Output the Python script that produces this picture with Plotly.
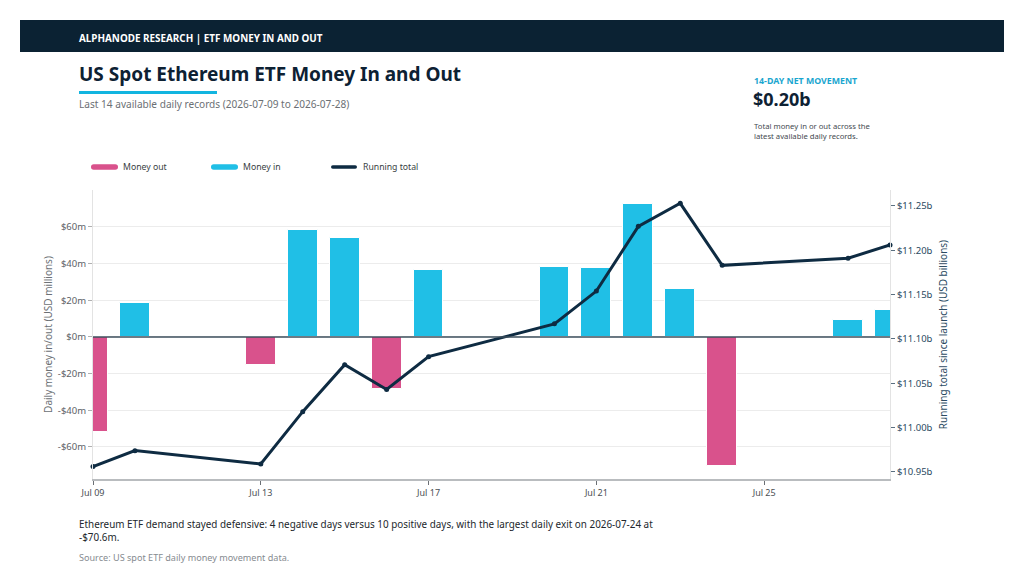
import plotly.graph_objects as go

# ---- data ----
dates = ["2026-07-09", "2026-07-10", "2026-07-13", "2026-07-14", "2026-07-15",
         "2026-07-16", "2026-07-17", "2026-07-20", "2026-07-21", "2026-07-22",
         "2026-07-23", "2026-07-24", "2026-07-27", "2026-07-28"]
daily_flow_musd = [-52.0, 18.4, -15.3, 58.3, 53.8, -28.3, 36.5, 38.0, 37.4,
                   72.5, 26.2, -70.6, 9.1, 14.5]
running_total_busd = [10.956, 10.974, 10.959, 11.018, 11.071, 11.043, 11.080,
                      11.117, 11.154, 11.227, 11.253, 11.183, 11.191, 11.206]
left_ticks = [-60, -40, -20, 0, 20, 40, 60]
left_tick_text = ["-$60m", "-$40m", "-$20m", "$0m", "$20m", "$40m", "$60m"]
right_ticks = [10.95, 11.00, 11.05, 11.10, 11.15, 11.20, 11.25]
right_tick_text = ["$10.95b", "$11.00b", "$11.05b", "$11.10b", "$11.15b", "$11.20b", "$11.25b"]
x_ticks = ["2026-07-09", "2026-07-13", "2026-07-17", "2026-07-21", "2026-07-25"]
x_tick_text = ["Jul 09", "Jul 13", "Jul 17", "Jul 21", "Jul 25"]

# ---- style ----
PINK = "#d9528c"
CYAN = "#20bfe6"
NAVY = "#0e2b42"
HEADER = "#0b2233"
GREY_TXT = "#6b6f74"
FONT = "Noto Sans"

OFF = 8  # page body margin
W, H = 1024 - 2 * OFF, 582 - 2 * OFF
# plot area in window pixels: x 93..890, y 190..479
L, T = 93 - OFF, 190 - OFF
R = W - (890 - OFF)
B = H - (479 - OFF)
PW, PH = W - L - R, H - T - B


def px(x):
    return (x - OFF - L) / PW


def py(y):
    return (H - B - (y - OFF)) / PH


neg_x = [d for d, v in zip(dates, daily_flow_musd) if v < 0]
neg_y = [v for v in daily_flow_musd if v < 0]
pos_x = [d for d, v in zip(dates, daily_flow_musd) if v >= 0]
pos_y = [v for v in daily_flow_musd if v >= 0]

bar_w = 0.71 * 86400000

fig = go.Figure()
fig.add_trace(go.Bar(x=neg_x, y=neg_y, name="Money out", marker=dict(color=PINK, line=dict(color="white", width=1)),
                     width=bar_w, showlegend=False))
fig.add_trace(go.Bar(x=pos_x, y=pos_y, name="Money in", marker=dict(color=CYAN, line=dict(color="white", width=1)),
                     width=bar_w, showlegend=False))
fig.add_trace(go.Scatter(x=dates, y=running_total_busd, name="Running total", yaxis="y2",
                         mode="lines+markers", line=dict(color=NAVY, width=3),
                         marker=dict(color=NAVY, size=5), showlegend=False, cliponaxis=False))


def pill(x0, x1, yc, h, color):
    # rounded legend swatch (in window pixels -> paper coords)
    r = h / 2
    pts = (f"M {px(x0 + r)},{py(yc - r)} L {px(x1 - r)},{py(yc - r)} "
           f"Q {px(x1)},{py(yc - r)} {px(x1)},{py(yc)} Q {px(x1)},{py(yc + r)} {px(x1 - r)},{py(yc + r)} "
           f"L {px(x0 + r)},{py(yc + r)} Q {px(x0)},{py(yc + r)} {px(x0)},{py(yc)} "
           f"Q {px(x0)},{py(yc - r)} {px(x0 + r)},{py(yc - r)} Z")
    return dict(type="path", xref="paper", yref="paper", path=pts, fillcolor=color, line=dict(width=0))


shapes = [
    dict(type="rect", xref="paper", yref="paper", x0=px(20), x1=px(1004), y0=py(52), y1=py(20),
         fillcolor=HEADER, line=dict(width=0), layer="below"),
    dict(type="rect", xref="paper", yref="paper", x0=px(79), x1=px(217), y0=py(94), y1=py(91),
         fillcolor="#12b5e0", line=dict(width=0)),
    # zero line
    dict(type="line", xref="paper", yref="y", x0=0, x1=1, y0=0, y1=0, line=dict(color="#3d4f5c", width=1.5)),
    # legend swatches
    pill(91, 118, 167, 5.5, PINK),
    pill(211, 238, 167, 5.5, CYAN),
    pill(331, 357, 167, 3.5, NAVY),
]


def ann(text, x, y, size, color, bold=False, xanchor="left", yanchor="middle", **kw):
    if bold:
        text = "<b>" + text + "</b>"
    return dict(text=text, xref="paper", yref="paper", x=px(x), y=py(y), xanchor=xanchor, yanchor=yanchor,
                showarrow=False, font=dict(family=FONT, size=size, color=color), align="left", **kw)


annotations = [
    ann("ALPHANODE RESEARCH | ETF MONEY IN AND OUT", 77, 38, 9.9, "white", bold=True),
    ann("US Spot Ethereum ETF Money In and Out", 77, 74, 19, "#0d2133", bold=True),
    ann("Last 14 available daily records (2026-07-09 to 2026-07-28)", 77, 104, 10.1, GREY_TXT),
    ann("14-DAY NET MOVEMENT", 752, 81, 8.8, "#1aa6cf", bold=True),
    ann("$0.20b", 751, 99, 18, "#0d2133", bold=True),
    ann("Total money in or out across the<br>latest available daily records.", 752, 131, 7.7, "#444a50"),
    ann("Money out", 121, 167, 8.7, "#3a3f44"),
    ann("Money in", 241, 167, 8.7, "#3a3f44"),
    ann("Running total", 361, 167, 8.7, "#3a3f44"),
    ann("Ethereum ETF demand stayed defensive: 4 negative days versus 10 positive days, with the largest daily exit on 2026-07-24 at<br>-$70.6m.",
        77, 530, 9.9, "#22272c"),
    ann("Source: US spot ETF daily money movement data.", 77, 557, 9.1, "#868b90"),
]

fig.update_layout(
    width=W, height=H,
    margin=dict(l=L, r=R, t=T, b=B, pad=0),
    paper_bgcolor="white", plot_bgcolor="white",
    font=dict(family=FONT, size=10, color=GREY_TXT),
    barmode="overlay", bargap=0,
    shapes=shapes, annotations=annotations,
    xaxis=dict(type="date", range=["2026-07-09", "2026-07-28"], tickvals=x_ticks, ticktext=x_tick_text,
               showgrid=False, showline=True, linecolor="#b9bcbf", linewidth=1.5, ticks="outside",
               tickcolor="#6b6f74", ticklen=4, tickfont=dict(size=9, color="#4a4f54"), zeroline=False),
    yaxis=dict(range=[-77.5, 80.1], tickvals=left_ticks, ticktext=left_tick_text,
               showgrid=True, gridcolor="#ececec", gridwidth=1, zeroline=False,
               showline=True, linecolor="#e3e3e3", ticks="outside", tickcolor="#b0b0b0", ticklen=4,
               tickfont=dict(size=9.5, color="#5c6166"),
               title=dict(text="Daily money in/out (USD millions)", font=dict(size=10, color=GREY_TXT), standoff=3)),
    yaxis2=dict(range=[10.942, 11.268], tickvals=right_ticks, ticktext=right_tick_text, overlaying="y",
                side="right", showgrid=False, zeroline=False, showline=True, linecolor="#e3e3e3",
                ticks="outside", tickcolor="#5a6f80", ticklen=4,
                tickfont=dict(size=9.5, color="#2a4a62"),
                title=dict(text="Running total since launch (USD billions)", font=dict(size=10, color="#2a4a62"), standoff=8)),
)

fig.write_html("out.html")
